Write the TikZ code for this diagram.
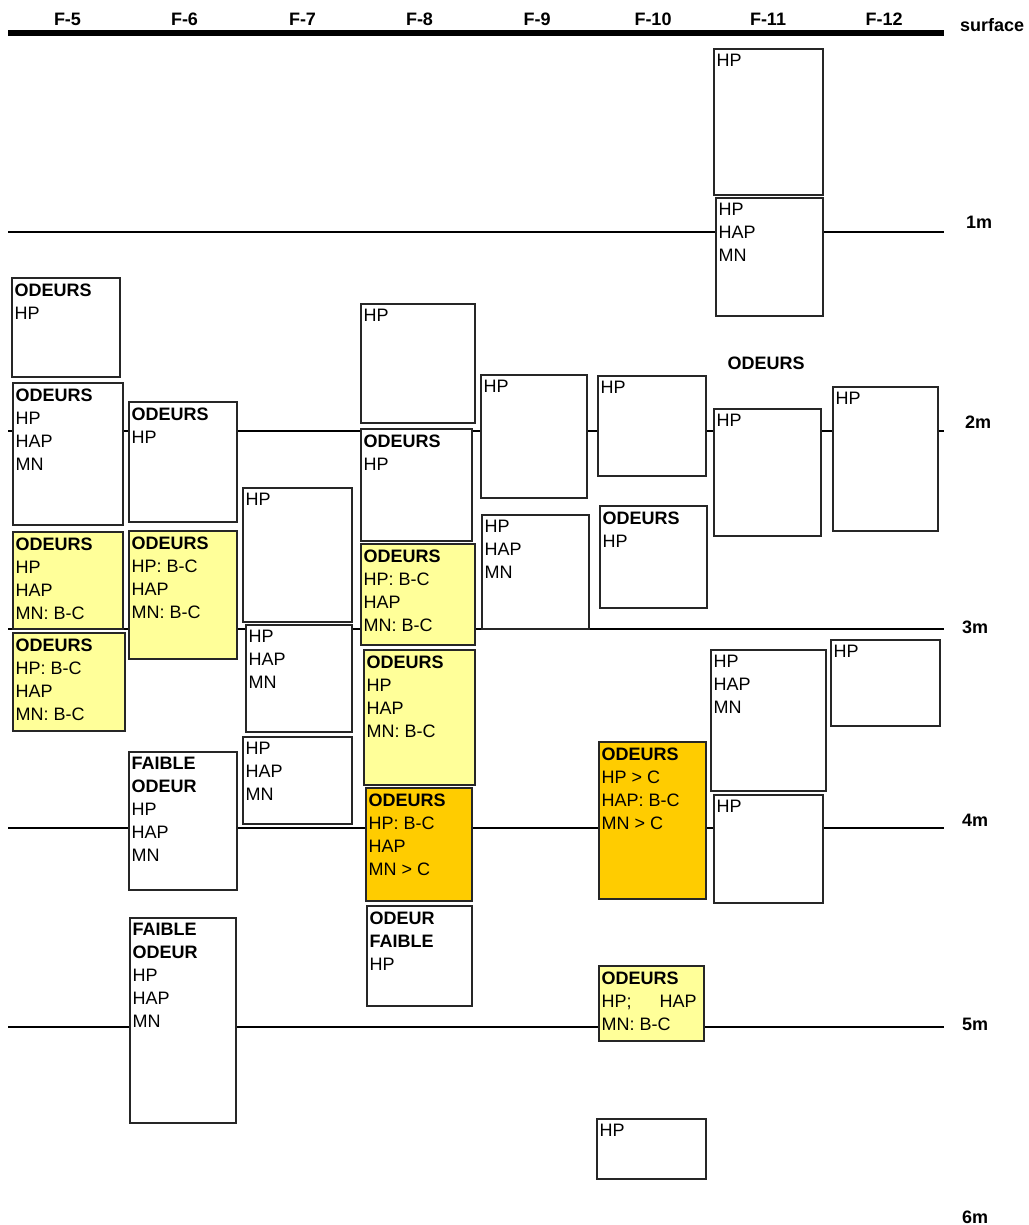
\documentclass[tikz,border=0pt]{standalone}
\usepackage{fontspec}
\setmainfont{Liberation Sans}
\usetikzlibrary{fit}
\definecolor{ylw}{HTML}{FFFF99}
\definecolor{org}{HTML}{FFCC00}
\tikzset{
  boxsty/.style={draw=black!85, line width=1.2pt, inner sep=0pt, rectangle},
  txt/.style={anchor=north west, inner sep=0pt, align=left, font=\fontsize{18}{23}\selectfont},
  hdr/.style={anchor=base, inner sep=0pt, font=\fontsize{18}{22}\selectfont\bfseries},
  lvl/.style={anchor=base west, inner sep=0pt, font=\fontsize{18}{22}\selectfont\bfseries},
  depth/.style={line width=2pt},
}
\newcommand\bx[7]{%
  \node[boxsty, fill=#6, fit={(#2,#3) (#4,#5)}] (#1) {};
  \node[txt] (#1t) at ([xshift=3pt,yshift=-6pt]#1.north west) {#7};
}
\begin{document}
\begin{tikzpicture}[x=1pt,y=-1pt]
\useasboundingbox (0,0) rectangle (1028,1225);
% headers
\node[hdr] (h5) at (67.5,26) {F-5};
\node[hdr] (h6) at (184.5,26) {F-6};
\node[hdr] (h7) at (302.5,26) {F-7};
\node[hdr] (h8) at (419.5,26) {F-8};
\node[hdr] (h9) at (537,26) {F-9};
\node[hdr] (h10) at (653,26) {F-10};
\node[hdr] (h11) at (768,26) {F-11};
\node[hdr] (h12) at (884,26) {F-12};
% depth lines
\coordinate (s0) at (8,33); \coordinate (s1) at (944,33);
\draw[line width=5.5pt] (s0) -- (s1);
\coordinate (a0) at (8,232); \coordinate (a1) at (944,232);
\coordinate (b0) at (8,431); \coordinate (b1) at (944,431);
\coordinate (c0) at (8,629); \coordinate (c1) at (944,629);
\coordinate (d0) at (8,828); \coordinate (d1) at (944,828);
\coordinate (e0) at (8,1027); \coordinate (e1) at (944,1027);
\draw[depth] (a0) -- (a1);
\draw[depth] (b0) -- (b1);
\draw[depth] (c0) -- (c1);
\draw[depth] (d0) -- (d1);
\draw[depth] (e0) -- (e1);
% labels
\node[lvl] (lsurf) at (960,32) {surface};
\node[lvl] (l1) at (966,228) {1m};
\node[lvl] (l2) at (965,428) {2m};
\node[lvl] (l3) at (962,633) {3m};
\node[lvl] (l4) at (962,826) {4m};
\node[lvl] (l5) at (962,1030) {5m};
\node[lvl] (l6) at (962,1223) {6m};
% F-5
\bx{f5a}{12}{278}{120}{377}{white}{\textbf{ODEURS}\\HP}
\bx{f5b}{13}{383}{123}{525}{white}{\textbf{ODEURS}\\HP\\HAP\\MN}
\bx{f5c}{13}{532}{123}{629}{ylw}{\textbf{ODEURS}\\HP\\HAP\\MN: B-C}
\bx{f5d}{13}{633}{125}{731}{ylw}{\textbf{ODEURS}\\HP: B-C\\HAP\\MN: B-C}
% F-6
\bx{f6a}{129}{402}{237}{522}{white}{\textbf{ODEURS}\\HP}
\bx{f6b}{129}{531}{237}{659}{ylw}{\textbf{ODEURS}\\HP: B-C\\HAP\\MN: B-C}
\bx{f6c}{129}{752}{237}{890}{white}{\textbf{FAIBLE}\\\textbf{ODEUR}\\HP\\HAP\\MN}
\bx{f6d}{130}{918}{236}{1123}{white}{\textbf{FAIBLE}\\\textbf{ODEUR}\\HP\\HAP\\MN}
% F-7
\bx{f7a}{243}{488}{352}{622}{white}{HP}
\bx{f7b}{246}{625}{352}{732}{white}{HP\\HAP\\MN}
\bx{f7c}{243}{737}{352}{824}{white}{HP\\HAP\\MN}
% F-8
\bx{f8a}{361}{304}{475}{423}{white}{HP}
\bx{f8b}{361}{429}{472}{541}{white}{\textbf{ODEURS}\\HP}
\bx{f8c}{361}{544}{475}{645}{ylw}{\textbf{ODEURS}\\HP: B-C\\HAP\\MN: B-C}
\bx{f8d}{364}{650}{475}{785}{ylw}{\textbf{ODEURS}\\HP\\HAP\\MN: B-C}
\bx{f8e}{366}{788}{472}{901}{org}{\textbf{ODEURS}\\HP: B-C\\HAP\\MN > C}
\bx{f8f}{367}{906}{472}{1006}{white}{\textbf{ODEUR}\\\textbf{FAIBLE}\\HP}
% F-9
\bx{f9a}{481}{375}{587}{498}{white}{HP}
\bx{f9b}{482}{515}{589}{629}{white}{HP\\HAP\\MN}
% F-10
\bx{f10a}{598}{376}{706}{476}{white}{HP}
\bx{f10b}{600}{506}{707}{608}{white}{\textbf{ODEURS}\\HP}
\bx{f10c}{599}{742}{706}{899}{org}{\textbf{ODEURS}\\HP > C\\HAP: B-C\\MN > C}
\bx{f10d}{599}{966}{704}{1041}{ylw}{\textbf{ODEURS}\\HP;\hspace{28pt}HAP\\MN: B-C}
\bx{f10e}{597}{1119}{706}{1179}{white}{HP}
% F-11
\bx{f11a}{714}{49}{823}{195}{white}{HP}
\bx{f11b}{716}{198}{823}{316}{white}{HP\\HAP\\MN}
\node[hdr] (f11lab) at (766,369) {ODEURS};
\bx{f11c}{714}{409}{821}{536}{white}{HP}
\bx{f11d}{711}{650}{826}{791}{white}{HP\\HAP\\MN}
\bx{f11e}{714}{795}{823}{903}{white}{HP}
% F-12
\bx{f12a}{833}{387}{938}{531}{white}{HP}
\bx{f12b}{831}{640}{940}{726}{white}{HP}
\end{tikzpicture}
\end{document}
